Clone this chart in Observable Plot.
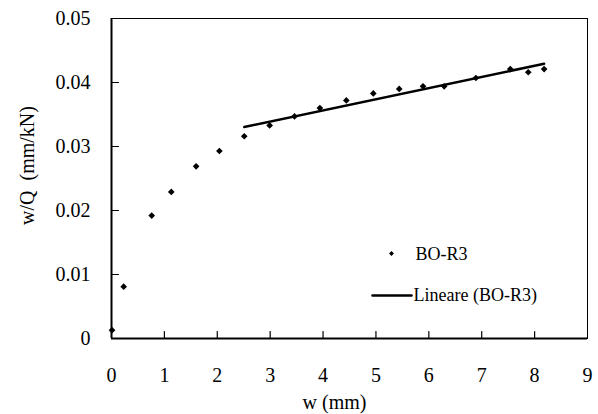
<!DOCTYPE html>
<html>
<head>
<meta charset="utf-8">
<script src="https://cdn.jsdelivr.net/npm/d3@7"></script>
<script src="https://cdn.jsdelivr.net/npm/@observablehq/plot@0.6"></script>
<style>
  html, body { margin: 0; padding: 0; background: #fff; }
  #chart svg, #chart svg text { font-family: "Liberation Serif" !important; }
</style>
</head>
<body>
<div id="chart"></div>
<script>
// Data
const wValues = [0.01, 0.23, 0.76, 1.13, 1.60, 2.04, 2.51, 2.99, 3.46, 3.94, 4.44, 4.95, 5.44, 5.89, 6.29, 6.89, 7.54, 7.88, 8.18];
const wqValues = [0.0013, 0.0081, 0.0192, 0.0229, 0.0269, 0.0293, 0.0316, 0.0333, 0.0347, 0.0360, 0.0372, 0.0383, 0.0390, 0.0394, 0.0394, 0.0407, 0.0421, 0.0416, 0.0421];
const trendStartW = 2.5; // linear trend fitted on points from w = 2.5 mm onward
const xTicks = [0, 1, 2, 3, 4, 5, 6, 7, 8, 9];
const yTicks = [0, 0.01, 0.02, 0.03, 0.04, 0.05];
const yTickLabels = ["0", "0.01", "0.02", "0.03", "0.04", "0.05"];
const seriesName = "BO-R3";
const trendName = "Lineare (BO-R3)";
const xLabel = "w (mm)";
const yLabel = "w/Q  (mm/kN)";

const points = wValues.map((w, i) => ({w, v: wqValues[i]}));
const trendPoints = points.filter(d => d.w >= trendStartW);

const FONT = "Liberation Serif";
const lineShape = {draw(ctx, l) { ctx.moveTo(0, 0); ctx.lineTo(0, -l); }};

const chart = Plot.plot({
  width: 598,
  height: 414,
  marginLeft: 111,
  marginRight: 11,
  marginTop: 18,
  marginBottom: 76,
  style: {fontSize: "20px", color: "#000", background: "#fff"},
  x: {domain: [0, 9], ticks: xTicks},
  y: {domain: [0, 0.05], ticks: yTicks},
  marks: [
    Plot.frame({stroke: "#000", strokeWidth: 1}),
    Plot.axisX({ticks: xTicks, tickSize: 0, tickPadding: 29, label: null, fontSize: 20, fill: "#000"}),
    Plot.axisY({ticks: yTicks, tickSize: 0, tickPadding: 21, label: null, fontSize: 20, fill: "#000",
      tickFormat: d => yTickLabels[yTicks.indexOf(d)]}),
    Plot.vector(xTicks.slice(1, -1), {x: d => d, y: yTicks[0], length: 7, rotate: 0, anchor: "start", shape: lineShape, stroke: "#000", strokeWidth: 1.2}),
    Plot.vector(yTicks.slice(1, -1), {x: xTicks[0], y: d => d, length: 7, rotate: 90, anchor: "start", shape: lineShape, stroke: "#000", strokeWidth: 1.2}),
    Plot.ruleY([yTicks[0]], {stroke: "#000", strokeWidth: 2}),
    Plot.ruleX([xTicks[0]], {stroke: "#000", strokeWidth: 2}),
    Plot.linearRegressionY(trendPoints, {x: "w", y: "v", ci: 0, stroke: "#000", strokeWidth: 2.5}),
    Plot.dot(points, {x: "w", y: "v", symbol: "diamond2", r: 3, fill: "#000", stroke: null}),
    // axis titles
    Plot.text([xLabel], {text: d => d, frameAnchor: "bottom", dx: -15, dy: 64, textAnchor: "middle", lineAnchor: "middle", fontSize: 20, fill: "#000"}),
    Plot.text([yLabel], {text: d => d, frameAnchor: "left", dx: -84, dy: -13, rotate: -90, textAnchor: "middle", lineAnchor: "middle", fontSize: 20, fill: "#000"}),
    // legend
    Plot.dot([seriesName], {frameAnchor: "top-left", dx: 280, dy: 235, symbol: "diamond2", r: 2.2, fill: "#000", stroke: null}),
    Plot.text([seriesName], {text: d => d, frameAnchor: "top-left", dx: 304, dy: 236, textAnchor: "start", lineAnchor: "middle", fontSize: 18, fill: "#000"}),
    Plot.vector([trendName], {frameAnchor: "top-left", dx: 261, dy: 277, length: 39, rotate: 90, anchor: "start", shape: lineShape, stroke: "#000", strokeWidth: 2.5}),
    Plot.text([trendName], {text: d => d, frameAnchor: "top-left", dx: 302, dy: 277, textAnchor: "start", lineAnchor: "middle", fontSize: 18, fill: "#000"})
  ]
});
chart.setAttribute("font-family", FONT);
chart.style.setProperty("font-family", `'${FONT}'`, "important");
d3.select(chart).selectAll("g, text").attr("font-family", FONT)
  .each(function() { this.style.setProperty("font-family", `'${FONT}'`, "important"); });
document.getElementById("chart").appendChild(chart);
</script>
</body>
</html>
